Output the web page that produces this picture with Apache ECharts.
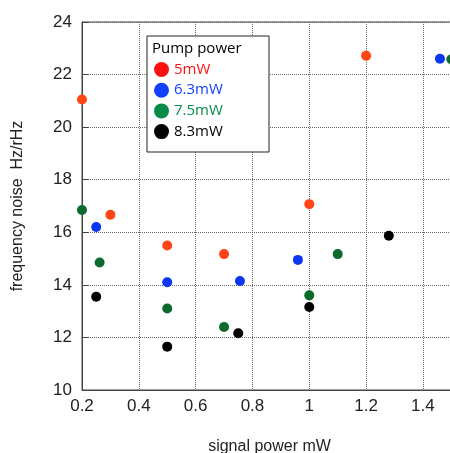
<!DOCTYPE html>
<html>
<head>
<meta charset="utf-8">
<script src="https://cdn.jsdelivr.net/npm/echarts@6/dist/echarts.min.js"></script>
<style>
  html, body { margin: 0; padding: 0; background: #fff; overflow: hidden; }
  #chart { width: 450px; height: 453px; }
</style>
</head>
<body>
<div id="chart"></div>
<script>
// Frequency noise vs. signal power, one scatter series per pump power
const seriesNames = ['5mW', '6.3mW', '7.5mW', '8.3mW'];

const pump5 = [[0.2, 21.05], [0.3, 16.67], [0.5, 15.5], [0.7, 15.17], [1.0, 17.07], [1.2, 22.72]];
const pump63 = [[0.25, 16.2], [0.5, 14.1], [0.756, 14.15], [0.96, 14.95], [1.46, 22.6]];
const pump75 = [[0.2, 16.85], [0.262, 14.85], [0.5, 13.1], [0.7, 12.4], [1.0, 13.6], [1.1, 15.17], [1.5, 22.58]];
const pump83 = [[0.25, 13.55], [0.5, 11.65], [0.75, 12.16], [1.0, 13.16], [1.28, 15.87]];

const xTicks = { min: 0.2, max: 1.52, interval: 0.2 };
const yTicks = { min: 10, max: 24, interval: 2 };

const dotColors = ['#ff4515', '#0b36f2', '#0b6a2c', '#000000'];
const legendColors = ['#ff1010', '#1240ff', '#0a8a4a', '#000000'];

const chart = echarts.init(document.getElementById('chart'));
const font = '"Liberation Sans", Arial, Helvetica, sans-serif';
const legendFont = '"Open Sans", "Noto Sans", sans-serif';

const allData = [pump5, pump63, pump75, pump83];

chart.setOption({
  animation: false,
  backgroundColor: '#fff',
  grid: {
    left: 82, width: 375, top: 22, height: 368,
    outerBoundsMode: 'none',
    containLabel: false,
    show: true, borderColor: '#444', borderWidth: 1
  },
  title: {
    text: 'Pump power',
    left: 152, top: 41,
    padding: 0,
    textStyle: { fontFamily: legendFont, fontSize: 15, fontWeight: 'normal', color: '#000' }
  },
  graphic: [{
    type: 'rect',
    shape: { x: 147, y: 36, width: 122, height: 116 },
    style: { fill: '#fff', stroke: '#222', lineWidth: 1 },
    z: 5
  }],
  legend: {
    orient: 'vertical',
    left: 154, top: 62,
    padding: 0,
    itemGap: 5.7,
    itemWidth: 15, itemHeight: 15,
    icon: 'circle',
    z: 10,
    textStyle: { fontFamily: legendFont, fontSize: 15 },
    data: seriesNames.map((n, i) => ({
      name: n,
      itemStyle: { color: legendColors[i] },
      textStyle: { color: legendColors[i] }
    }))
  },
  xAxis: {
    type: 'value',
    min: xTicks.min, max: xTicks.max, interval: xTicks.interval,
    name: 'signal power mW',
    nameLocation: 'middle',
    nameGap: 49,
    nameTextStyle: { fontFamily: font, fontSize: 16, color: '#222' },
    axisLine: { show: true, onZero: false, lineStyle: { color: '#444', width: 1 } },
    axisTick: { show: false },
    axisLabel: {
      fontFamily: font, fontSize: 17, color: '#222', margin: 8,
      showMaxLabel: false,
      formatter: v => String(Math.round(v * 10) / 10)
    },
    splitLine: { show: true, lineStyle: { color: '#666', type: [1, 1], width: 1 } }
  },
  yAxis: {
    type: 'value',
    min: yTicks.min, max: yTicks.max, interval: yTicks.interval,
    name: 'frequency noise  Hz/rHz',
    nameLocation: 'middle',
    nameGap: 56,
    nameTextStyle: { fontFamily: font, fontSize: 16, color: '#222' },
    axisLine: { show: true, onZero: false, lineStyle: { color: '#444', width: 1 } },
    axisTick: { show: true, inside: true, length: 7, lineStyle: { color: '#444' } },
    axisLabel: { fontFamily: font, fontSize: 17, color: '#222', margin: 10 },
    splitLine: { show: true, lineStyle: { color: '#666', type: [1, 1], width: 1 } }
  },
  series: allData.map((d, i) => ({
    name: seriesNames[i],
    type: 'scatter',
    data: d,
    symbol: 'circle',
    symbolSize: 10,
    itemStyle: { color: dotColors[i], opacity: 1 },
    z: 3
  }))
});
</script>
</body>
</html>
